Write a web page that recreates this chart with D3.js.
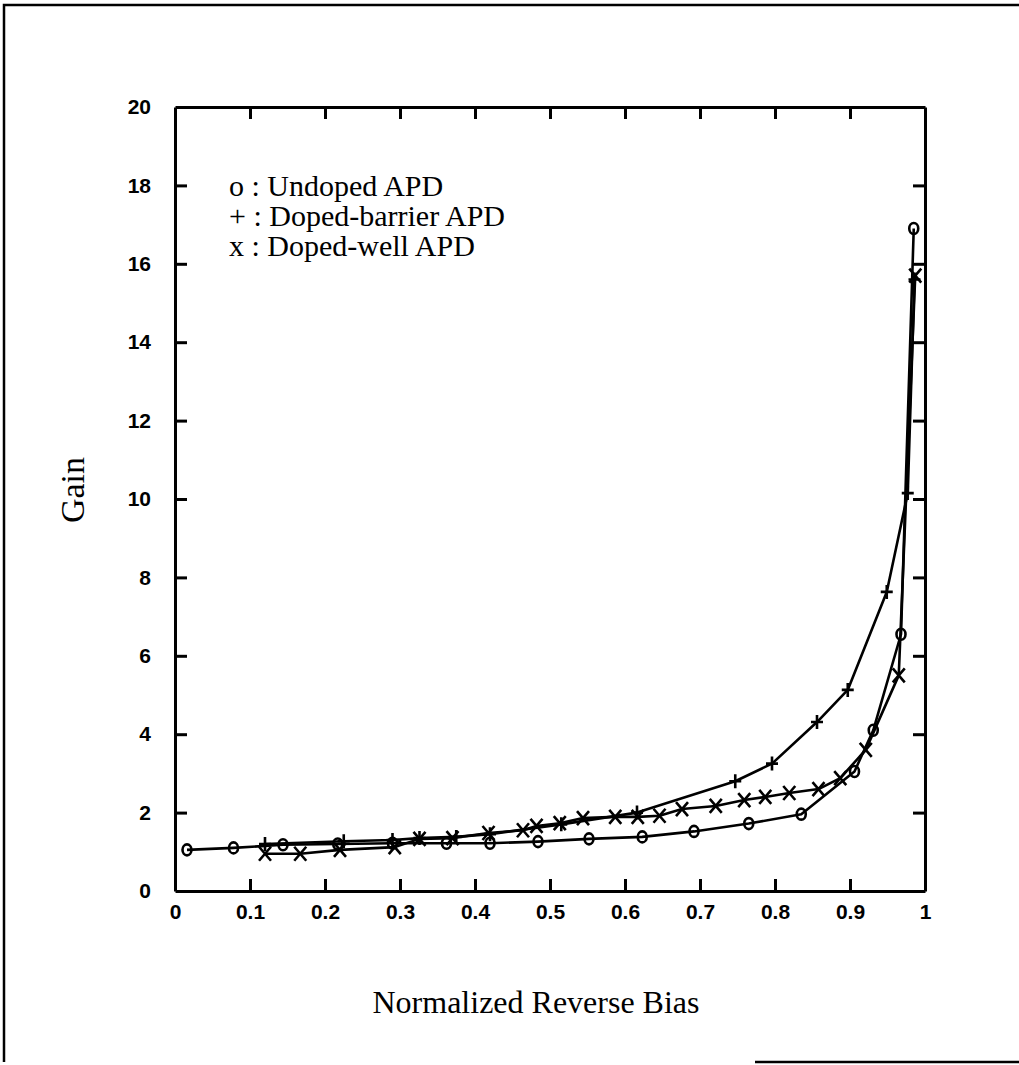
<!DOCTYPE html>
<head>
    <meta charset="utf-8">
    <title>Gain vs normalized reverse bias</title>
    <style>
        body { margin: 0; background: #fff; }
        .tick text { font-family: "Liberation Sans", Arial, sans-serif; font-size: 21px; font-weight: bold; fill: #000; }
        .axis path, .axis line { stroke: #000; stroke-width: 3; }
        .series { fill: none; stroke: #000; stroke-width: 2.6; stroke-linejoin: round; }
        .marker { fill: none; stroke: #000; stroke-width: 2.6; }
        .label { font-family: "Liberation Serif", "Times New Roman", serif; fill: #000; }
    </style>
</head>
<body>

<svg width="1019" height="1065"></svg>

<script src="https://d3js.org/d3.v7.min.js"></script>

<script>
    // data: [normalized reverse bias, gain]
    var undoped = [
        [0.016, 1.05], [0.078, 1.10], [0.144, 1.18], [0.217, 1.20], [0.290, 1.22],
        [0.362, 1.22], [0.420, 1.22], [0.484, 1.26], [0.552, 1.33], [0.623, 1.38],
        [0.692, 1.52], [0.765, 1.72], [0.835, 1.96], [0.906, 3.05], [0.931, 4.10],
        [0.968, 6.55], [0.985, 16.90]
    ];
    var dopedBarrier = [
        [0.120, 1.20], [0.225, 1.27], [0.290, 1.30], [0.326, 1.35], [0.375, 1.38],
        [0.420, 1.45], [0.515, 1.70], [0.616, 2.00], [0.747, 2.80], [0.796, 3.25],
        [0.856, 4.31], [0.897, 5.13], [0.949, 7.63], [0.977, 10.15], [0.986, 15.60]
    ];
    var dopedWell = [
        [0.120, 0.95], [0.167, 0.95], [0.220, 1.05], [0.293, 1.12], [0.326, 1.33],
        [0.370, 1.35], [0.418, 1.48], [0.464, 1.55], [0.482, 1.66], [0.513, 1.73],
        [0.544, 1.86], [0.587, 1.89], [0.617, 1.89], [0.646, 1.92], [0.676, 2.09],
        [0.721, 2.17], [0.759, 2.32], [0.787, 2.40], [0.819, 2.50], [0.858, 2.60],
        [0.887, 2.88], [0.921, 3.60], [0.965, 5.50], [0.987, 15.70]
    ];

    var xTicks = [0, 0.1, 0.2, 0.3, 0.4, 0.5, 0.6, 0.7, 0.8, 0.9, 1];
    var yTicks = [0, 2, 4, 6, 8, 10, 12, 14, 16, 18, 20];
    var legendLines = ["o : Undoped APD", "+ : Doped-barrier APD", "x : Doped-well APD"];

    var svg = d3.select("svg");

    var x = d3.scaleLinear().domain([0, 1]).range([175, 925]);
    var y = d3.scaleLinear().domain([0, 20]).range([891, 107]);

    // outer frame of the scanned figure
    svg.append("path")
        .attr("d", "M1019,5 L4,5 L4,1062")
        .attr("fill", "none").attr("stroke", "#000").attr("stroke-width", 2.5);
    svg.append("line")
        .attr("x1", 755).attr("x2", 1019).attr("y1", 1062).attr("y2", 1062)
        .attr("stroke", "#000").attr("stroke-width", 2.5);

    // axes, ticks pointing inward on all sides
    svg.append("g").attr("class", "axis")
        .attr("transform", "translate(0," + y(0) + ")")
        .call(d3.axisBottom(x).tickValues(xTicks).tickSizeInner(-12).tickSizeOuter(0)
            .tickPadding(13).tickFormat(d3.format("~g")));
    svg.append("g").attr("class", "axis")
        .attr("transform", "translate(0," + y(20) + ")")
        .call(d3.axisTop(x).tickValues(xTicks).tickSizeInner(-12).tickSizeOuter(0)
            .tickFormat(""));
    svg.append("g").attr("class", "axis")
        .attr("transform", "translate(" + x(0) + ",0)")
        .call(d3.axisLeft(y).tickValues(yTicks).tickSizeInner(-12).tickSizeOuter(0)
            .tickPadding(24));
    svg.append("g").attr("class", "axis")
        .attr("transform", "translate(" + x(1) + ",0)")
        .call(d3.axisRight(y).tickValues(yTicks).tickSizeInner(-12).tickSizeOuter(0)
            .tickFormat(""));

    // end ticks on the frame are the frame itself
    svg.selectAll(".axis .tick").filter(function(d) { return d === 0 || d === 1 || d === 20; })
        .select("line").remove();

    var line = d3.line()
        .x(function(d) { return x(d[0]); })
        .y(function(d) { return y(d[1]); });

    [undoped, dopedBarrier, dopedWell].forEach(function(s) {
        svg.append("path").datum(s).attr("class", "series").attr("d", line);
    });

    // o markers
    svg.append("g").selectAll("ellipse")
        .data(undoped)
        .enter().append("ellipse")
            .attr("class", "marker")
            .attr("cx", function(d) { return x(d[0]); })
            .attr("cy", function(d) { return y(d[1]); })
            .attr("rx", 4.5).attr("ry", 5.5)
            .attr("fill", "#fff");

    // + markers
    svg.append("g").selectAll("path")
        .data(dopedBarrier)
        .enter().append("path")
            .attr("class", "marker")
            .attr("d", function(d) {
                var cx = x(d[0]), cy = y(d[1]);
                return "M" + (cx - 6) + "," + cy + "H" + (cx + 6) +
                       "M" + cx + "," + (cy - 7) + "V" + (cy + 7);
            });

    // x markers
    svg.append("g").selectAll("path")
        .data(dopedWell)
        .enter().append("path")
            .attr("class", "marker")
            .attr("d", function(d) {
                var cx = x(d[0]), cy = y(d[1]);
                return "M" + (cx - 6) + "," + (cy - 7) + "L" + (cx + 6) + "," + (cy + 7) +
                       "M" + (cx + 6) + "," + (cy - 7) + "L" + (cx - 6) + "," + (cy + 7);
            });

    // legend
    svg.append("g").selectAll("text")
        .data(legendLines)
        .enter().append("text")
            .attr("class", "label")
            .attr("x", 229)
            .attr("y", function(d, i) { return 196 + i * 30; })
            .attr("font-size", 30)
            .text(function(d) { return d; });

    // axis titles
    svg.append("text").attr("class", "label")
        .attr("x", 536).attr("y", 1013)
        .attr("text-anchor", "middle")
        .attr("font-size", 32)
        .text("Normalized Reverse Bias");

    svg.append("text").attr("class", "label")
        .attr("transform", "translate(84,490) rotate(-90)")
        .attr("text-anchor", "middle")
        .attr("font-size", 34)
        .text("Gain");
</script>

</body>
